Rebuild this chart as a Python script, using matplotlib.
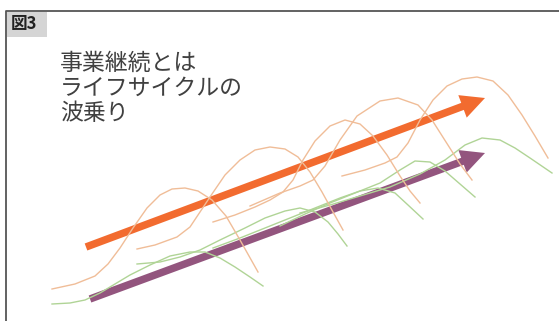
import matplotlib
matplotlib.use("Agg")
import matplotlib.pyplot as plt
from matplotlib.patches import FancyArrow, Rectangle

plt.rcParams['font.family'] = ['Noto Sans CJK JP', 'DejaVu Sans']

# life-cycle waves (pixel-like coordinates, y grows downward)
o1_x = [52, 75, 95, 108, 120, 133, 147, 160, 172, 185, 198, 212, 226, 240, 258]
o1_y = [289, 284, 276, 264, 248, 228, 208, 195, 189, 188, 191, 200, 216, 240, 272]
o2_x = [137, 155, 177, 190, 200, 212, 225, 240, 255, 270, 285, 298, 310, 322, 333, 343]
o2_y = [249, 245, 237, 227, 212, 194, 175, 160, 150, 147, 149, 157, 172, 192, 212, 230]
o3_x = [213, 235, 255, 270, 283, 293, 303, 315, 330, 345, 360, 373, 387, 400, 410, 420]
o3_y = [222, 215, 207, 200, 192, 180, 160, 141, 126, 120, 124, 136, 155, 176, 191, 203]
o4_x = [250, 280, 300, 313, 325, 340, 357, 380, 398, 418, 432, 446, 460, 472]
o4_y = [206, 193, 186, 180, 166, 140, 116, 101, 98, 105, 120, 142, 164, 180]
o5_x = [342, 365, 385, 397, 408, 420, 433, 447, 462, 477, 493, 508, 522, 535, 548]
o5_y = [176, 170, 163, 157, 143, 120, 100, 86, 79, 77, 81, 95, 115, 136, 158]

g1_x = [52, 70, 85, 100, 115, 130, 150, 170, 190, 205, 220, 235, 250, 263]
g1_y = [304, 303, 300, 293, 284, 275, 265, 256, 252, 252, 258, 267, 277, 286]
g2_x = [137, 160, 180, 200, 220, 245, 265, 285, 300, 315, 328, 338, 347]
g2_y = [264, 262, 257, 250, 240, 228, 218, 211, 208, 212, 222, 234, 246]
g3_x = [213, 240, 265, 290, 315, 340, 360, 378, 395, 408, 423]
g3_y = [248, 238, 228, 218, 208, 198, 191, 188, 193, 205, 219]
g4_x = [280, 305, 330, 355, 380, 400, 415, 430, 445, 460, 475]
g4_y = [226, 214, 203, 193, 183, 170, 161, 162, 171, 184, 197]
g5_x = [300, 330, 360, 390, 420, 445, 465, 482, 500, 515, 530, 552]
g5_y = [213, 205, 196, 187, 174, 160, 145, 138, 140, 148, 158, 173]

# trend arrows: tail and tip
orange_arrow = [(86, 247), (485, 98)]
purple_arrow = [(90, 299), (485, 153)]

title = "図3"
caption = "事業継続とは\nライフサイクルの\n波乗り"

fig = plt.figure(figsize=(5.59, 3.21), dpi=100)
ax = fig.add_axes([0, 0, 1, 1])
ax.set_xlim(0, 559)
ax.set_ylim(321, 0)
ax.axis('off')

orange_waves = [(o1_x, o1_y), (o2_x, o2_y), (o3_x, o3_y), (o4_x, o4_y), (o5_x, o5_y)]
green_waves = [(g1_x, g1_y), (g2_x, g2_y), (g3_x, g3_y), (g4_x, g4_y), (g5_x, g5_y)]
for xs, ys in green_waves:
    ax.plot(xs, ys, color='#b0d496', lw=1.0, solid_joinstyle='round')
for xs, ys in orange_waves:
    ax.plot(xs, ys, color='#f0bd98', lw=1.0, solid_joinstyle='round')

for (x0, y0), (x1, y1), col in [(orange_arrow[0], orange_arrow[1], '#f26b2f'),
                                 (purple_arrow[0], purple_arrow[1], '#93557e')]:
    ax.add_patch(FancyArrow(x0, y0, x1 - x0, y1 - y0, width=7.5, head_width=24,
                            head_length=24, length_includes_head=True,
                            color=col, lw=0))

# frame and label box
ax.plot([6, 6, 559], [321, 11, 11], color='#555555', lw=1.3)
ax.add_patch(Rectangle((6.5, 11.5), 40, 25, color='#d5d5d5', lw=0))
ax.text(11, 24.5, title, fontsize=12, fontweight='bold', color='#222222',
        va='center', ha='left')

ax.text(60, 52, caption, fontsize=16.5, color='#404040', va='top', ha='left',
        linespacing=1.12)

fig.savefig('out.png', dpi=100)
